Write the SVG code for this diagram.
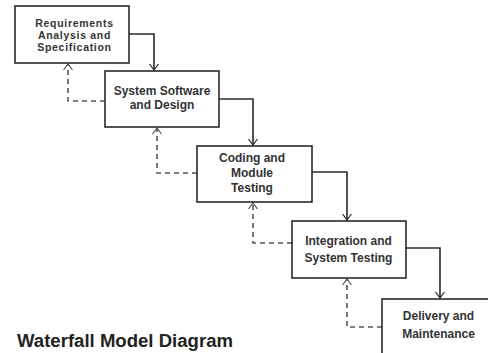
<svg xmlns="http://www.w3.org/2000/svg" width="488" height="353" viewBox="0 0 488 353">
<style>
.box{fill:#fff;stroke:#2a2a2a;stroke-width:1.6}
.lbl{font-family:"Liberation Sans",Arial,sans-serif;font-weight:bold;font-size:12px;fill:#333;text-anchor:middle}
.sm{font-size:10.5px;letter-spacing:0.7px}
.flow{fill:none;stroke:#2a2a2a;stroke-width:1.6}
.back{fill:none;stroke:#555;stroke-width:1.6;stroke-dasharray:5 4}
.title{font-family:"Liberation Sans",Arial,sans-serif;font-weight:bold;font-size:18px;fill:#222}
</style>
<defs>
<marker id="ah" markerUnits="userSpaceOnUse" markerWidth="12" markerHeight="12" viewBox="-6 -6 12 12" refX="0" refY="0" orient="auto">
<path d="M-6,-4.5 L0,0 L-6,4.5" fill="none" stroke="#2a2a2a" stroke-width="1.2"/>
</marker>
<marker id="ahd" markerUnits="userSpaceOnUse" markerWidth="12" markerHeight="12" viewBox="-6 -6 12 12" refX="0" refY="0" orient="auto">
<path d="M-6,-4.5 L0,0 L-6,4.5" fill="none" stroke="#555" stroke-width="1.2"/>
</marker>
</defs>
<rect width="488" height="353" fill="#fff"/>
<g id="connectors">
<path class="flow" d="M129,34 H154 V70" marker-end="url(#ah)"/>
<path class="flow" d="M219,99 H253 V145" marker-end="url(#ah)"/>
<path class="flow" d="M312,172 H347 V220" marker-end="url(#ah)"/>
<path class="flow" d="M406,248 H440 V298" marker-end="url(#ah)"/>
<path class="back" d="M105,101 H68 V64" marker-end="url(#ahd)"/>
<path class="back" d="M197,173 H157 V128" marker-end="url(#ahd)"/>
<path class="back" d="M292,243 H253 V203" marker-end="url(#ahd)"/>
<path class="back" d="M382,327 H347 V279" marker-end="url(#ahd)"/>
</g>
<g id="n1">
<rect class="box" x="15" y="6" width="114" height="57"/>
<text class="lbl sm" x="74.5" y="26.5">Requirements</text>
<text class="lbl sm" x="74.5" y="38.5">Analysis and</text>
<text class="lbl sm" x="74.5" y="50.5">Specification</text>
</g>
<g id="n2">
<rect class="box" x="105" y="71" width="114" height="56"/>
<text class="lbl" x="162" y="94.5">System Software</text>
<text class="lbl" x="162" y="108.5">and Design</text>
</g>
<g id="n3">
<rect class="box" x="197" y="146" width="115" height="56"/>
<text class="lbl" x="252" y="161.5">Coding and</text>
<text class="lbl" x="252" y="176.5">Module</text>
<text class="lbl" x="252" y="191.5">Testing</text>
</g>
<g id="n4">
<rect class="box" x="292" y="221" width="114" height="57"/>
<text class="lbl" x="348.5" y="244.5">Integration and</text>
<text class="lbl" x="348.5" y="261.5">System Testing</text>
</g>
<g id="n5">
<rect class="box" x="382" y="299" width="120" height="70"/>
<text class="lbl" x="438.5" y="320">Delivery and</text>
<text class="lbl" x="438.5" y="338">Maintenance</text>
</g>
<text class="title" x="17" y="347" textLength="216" lengthAdjust="spacingAndGlyphs">Waterfall Model Diagram</text>
</svg>
